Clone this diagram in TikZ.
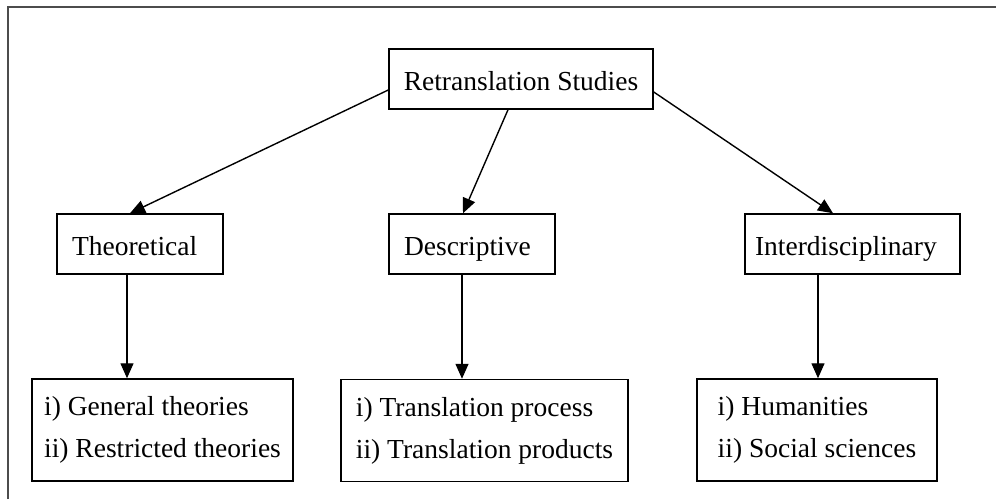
\documentclass[tikz,border=0pt]{standalone}
\usepackage{fontspec}
\setmainfont{Liberation Serif}
\usetikzlibrary{arrows.meta}

\begin{document}
\begin{tikzpicture}[x=1pt,y=-1pt]
            \tikzset{every node/.style = {font=\fontsize{27.5}{42}\selectfont}}
            \tikzset{box/.style = {draw, line width=1.5pt, text height=22pt, text depth=0pt, minimum height=60pt, align=left}}
            \tikzset{leaf/.style = {draw, line width=1.5pt, minimum height=102pt, align=left}}
            \tikzset{arr/.style = {-{Triangle[length=15pt,width=13pt]}, line width=1.4pt}}

            \useasboundingbox (0,0) rectangle (996,499);
            \draw[line width=2.5pt, black!70] (8,499) |- (996,7);

            \node[box, minimum width=264pt, align=center] (root) at (521,79) {Retranslation Studies};

            % second row
            \node[box, text width=136pt, inner xsep=15pt] (theo) at (140,244) {Theoretical};
            \node[box, text width=136pt, inner xsep=15pt] (desc) at (472,244) {Descriptive};
            \node[box, text width=195pt, inner xsep=10pt] (inter) at (852.5,244) {Interdisciplinary};

            % third row
            \node[leaf, minimum width=261pt] (gen) at (162.5,430) {i) General theories\\ii) Restricted theories};
            \node[leaf, minimum width=287pt] (proc) at (484.5,430.5) {i) Translation process\\ii) Translation products};
            \node[leaf, minimum width=240pt] (hum) at (817,430) {i) Humanities\\ii) Social sciences};

            \draw[arr] ([yshift=-11pt]root.west) -- ([xshift=-10pt]theo.north);
            \draw[arr] ([xshift=-13pt]root.south) -- ([xshift=-9pt]desc.north);
            \draw[arr] ([yshift=-13pt]root.east) -- ([xshift=-19.5pt]inter.north);

            \draw[arr] ([xshift=-13pt]theo.south) -- ([xshift=-13pt]theo.south |- gen.north);
            \draw[arr] ([xshift=-10pt]desc.south) -- ([xshift=-10pt]desc.south |- proc.north);
            \draw[arr] ([xshift=-34.5pt]inter.south) -- ([xshift=-34.5pt]inter.south |- hum.north);

        \end{tikzpicture}
\end{document}
